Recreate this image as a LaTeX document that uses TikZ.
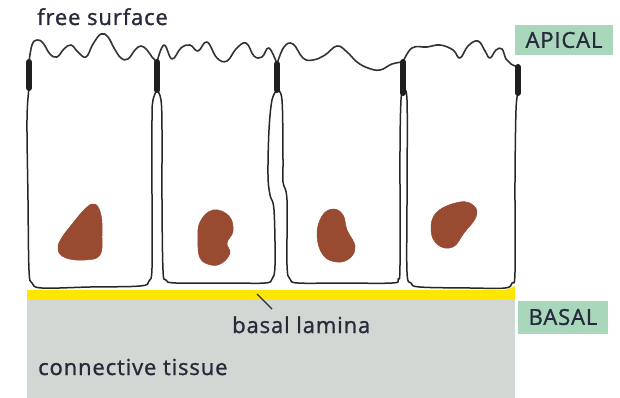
\documentclass[tikz,border=0pt]{standalone}
\usepackage{fontspec}
\setmainfont{Open Sans}[LetterSpace=4, FakeBold=1.2]
\usepackage{xcolor}
\usepackage{tikz}

\definecolor{lamina_yellow}{RGB}{255,230,0}
\definecolor{tissue_grey}{RGB}{209,216,212}
\definecolor{nucleus_brown}{RGB}{153,75,49}
\definecolor{tag_green}{RGB}{168,215,188}
\definecolor{ink}{RGB}{38,42,58}

\begin{document}
\begin{tikzpicture}[
    x=1pt, y=-1pt,
    cell_wall/.style={line width=1.5pt, black!85, line join=round},
    junction/.style={line width=6pt, black!88, line cap=round},
    surface/.style={line width=1.6pt, black!80, line join=round},
    nucleus/.style={fill=nucleus_brown, draw=nucleus_brown, line width=0.5pt},
    label_style/.style={text=ink, font=\fontsize{22}{26}\selectfont, inner sep=0pt},
    tag/.style={label_style, fill=tag_green},
    pointer/.style={line width=1.2pt, ink}
]
\useasboundingbox (0,0) rectangle (620,398);

% connective tissue and basal lamina
\fill[tissue_grey] (27,298) rectangle (515,398);
\fill[lamina_yellow] (27,290) -- (300,290) -- (505,290) -- (515,286) -- (515,299) -- (27,299) -- cycle;

% cell outlines
\draw[cell_wall] plot[smooth, tension=0.6] coordinates {(157,90) (153,100) (152,120) (152,200) (152,268) (149,281) (140,286) (90,287) (42,288) (32,283) (29,270) (28,200) (27,120) (29,88)};
\draw[cell_wall] plot[smooth, tension=0.6] coordinates {(157,90) (161,100) (162,130) (162,200) (163,270) (166,280) (176,283) (230,283) (265,283) (272,279) (275,265) (274,210) (270,195) (268,175) (269,130) (272,100) (277,90)};
\draw[cell_wall] plot[smooth, tension=0.6] coordinates {(277,90) (282,100) (283,160) (283,182) (287,200) (287,265) (290,279) (298,283) (340,283) (392,283) (398,279) (400,265) (400,150) (401,100) (403,93)};
\draw[cell_wall] plot[smooth, tension=0.6] coordinates {(403,93) (407,100) (407,200) (407,272) (411,283) (420,287) (470,288) (505,288) (512,283) (515,272) (515,180) (516,110) (518,93)};

% free surface
\draw[surface] plot[smooth, tension=0.7] coordinates {(29,62) (32,45) (37,40) (43,43) (50,54) (57,57) (64,49) (71,45) (78,52) (86,57) (93,44) (101,34) (108,37) (114,48) (121,58) (128,59) (135,50) (141,46) (147,50) (152,57) (157,62)};
\draw[surface] plot[smooth, tension=0.7] coordinates {(157,62) (164,45) (172,59) (181,48) (190,45) (198,51) (207,42) (217,58) (227,61) (236,49) (246,43) (254,56) (262,57) (269,48) (277,64)};
\draw[surface] plot[smooth, tension=0.7] coordinates {(277,64) (284,47) (293,44) (303,58) (313,60) (325,55) (337,46) (347,52) (357,62) (368,68) (380,70) (392,64) (403,62)};
\draw[surface] plot[smooth, tension=0.7] coordinates {(403,62) (412,48) (427,47) (440,45) (453,50) (460,58) (468,46) (478,41) (485,51) (490,58) (496,50) (502,49) (506,59) (511,64) (518,67)};

% junctions
\foreach \jx/\jtop/\jbot in {29/62/88, 157/62/90, 277/64/90, 403/62/93, 518/67/93}
    \draw[junction] (\jx,\jtop) -- (\jx,\jbot);

% nuclei
\fill[nucleus] plot[smooth cycle, tension=0.7] coordinates {(95,204) (101,215) (102,235) (100,255) (85,260) (66,258) (58,250) (61,239) (73,223) (86,208)};
\fill[nucleus] plot[smooth cycle, tension=0.7] coordinates {(213,210) (229,216) (233,231) (227,243) (230,253) (222,263) (211,265) (200,258) (198,240) (200,222)};
\fill[nucleus] plot[smooth cycle, tension=0.7] coordinates {(333,209) (343,215) (347,230) (355,246) (350,258) (337,262) (323,255) (317,235) (322,216)};
\fill[nucleus] plot[smooth cycle, tension=0.7] coordinates {(460,202) (474,206) (476,217) (464,233) (453,247) (438,245) (431,230) (437,212)};

% labels
\node[label_style, anchor=base west] (free_surface) at (37,25) {free surface};
\node[label_style, anchor=base west] (lamina_label) at (232,333) {basal lamina};
\node[label_style, anchor=base west] (tissue_label) at (38,375) {connective tissue};
\node[tag, minimum width=98pt, minimum height=30pt] (apical) at (564,40) {APICAL};
\node[tag, minimum width=90pt, minimum height=33pt] (basal) at (563,317) {BASAL};

\coordinate (lamina_tip) at (257,294);
\draw[pointer] (lamina_tip) -- ([xshift=40pt, yshift=7pt]lamina_label.north west);
\end{tikzpicture}
\end{document}
